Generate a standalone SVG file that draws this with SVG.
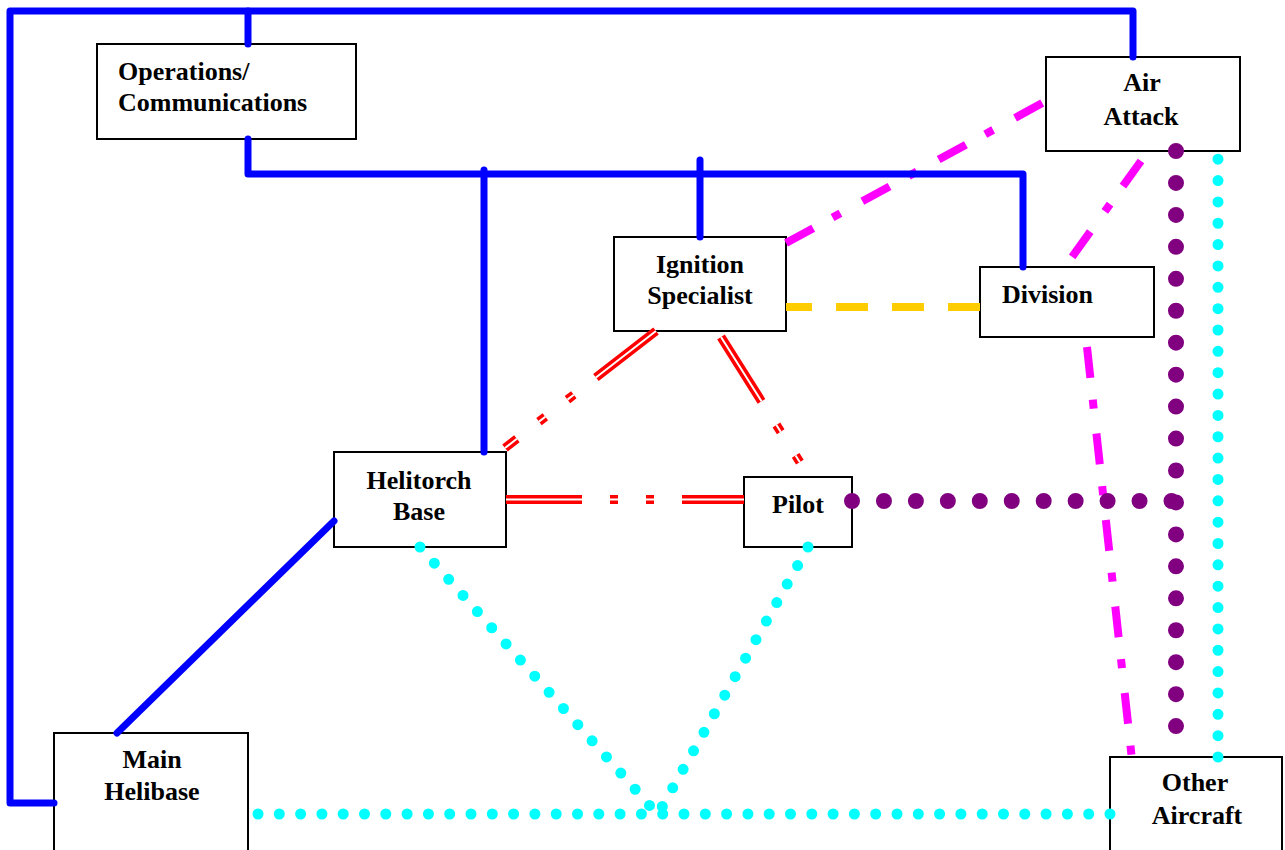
<svg xmlns="http://www.w3.org/2000/svg" width="1285" height="850" viewBox="0 0 1285 850">
<style>
.box{fill:#fff;stroke:#000;stroke-width:2}
.t{font-family:"Liberation Serif","Times New Roman",serif;font-weight:bold;font-size:26px;fill:#000}
.c{text-anchor:middle}
.blue{fill:none;stroke:#0000ff;stroke-width:7;stroke-linecap:round;stroke-linejoin:round}
.mag{fill:none;stroke:#ff00ff;stroke-width:8;stroke-dasharray:31 22 9 25}
.yel{fill:none;stroke:#ffcc00;stroke-width:8;stroke-dasharray:32 24}
.red{fill:none;stroke:#ff0000;stroke-width:9;stroke-dasharray:76 28 8 28 8 28}
.redin{fill:none;stroke:#fff;stroke-width:2;stroke-dasharray:76 28 8 28 8 28}
.pur{fill:none;stroke:#800080;stroke-width:16;stroke-linecap:round}
.cya{fill:none;stroke:#00ffff;stroke-width:11;stroke-linecap:round}
</style>
<rect width="1285" height="850" fill="#fff"/>
<g id="ops"><rect class="box" x="97" y="44" width="259" height="95"/><text class="t" x="118" y="80">Operations/</text><text class="t" x="118" y="111">Communications</text></g>
<g id="airattack"><rect class="box" x="1046" y="57" width="194" height="94"/><text class="t c" x="1142" y="91">Air</text><text class="t c" x="1141" y="125">Attack</text></g>
<g id="ignition"><rect class="box" x="614" y="237" width="172" height="94"/><text class="t c" x="700" y="273">Ignition</text><text class="t c" x="700" y="304">Specialist</text></g>
<g id="division"><rect class="box" x="980" y="267" width="174" height="70"/><text class="t" x="1002" y="303">Division</text></g>
<g id="helitorch"><rect class="box" x="334" y="452" width="172" height="95"/><text class="t c" x="419" y="489">Helitorch</text><text class="t c" x="419" y="520">Base</text></g>
<g id="pilot"><rect class="box" x="744" y="477" width="108" height="70"/><text class="t c" x="798" y="513">Pilot</text></g>
<g id="mainhelibase"><rect class="box" x="54" y="733" width="194" height="130"/><text class="t c" x="152" y="768">Main</text><text class="t c" x="152" y="800">Helibase</text></g>
<g id="otheraircraft"><rect class="box" x="1110" y="757" width="172" height="110"/><text class="t c" x="1195" y="791">Other</text><text class="t c" x="1197" y="824">Aircraft</text></g>
<g id="connectors">
<path class="mag" d="M786,243 L1046,101"/>
<path class="mag" d="M1141,161 L1067,264"/>
<path class="mag" d="M1087,347 L1132,760"/>
<path class="yel" d="M980,307 H786"/>
<path class="blue" d="M54,803 H10 V11 H1133 V57"/>
<path class="blue" d="M248,11 V44"/>
<path class="blue" d="M248,139 V174 H1023 V267"/>
<path class="blue" d="M484,170 V452"/>
<path class="blue" d="M700,160 V237"/>
<path class="blue" d="M334,521 L117,733"/>
<path class="red" d="M656,331 L505,448"/>
<path class="redin" d="M656,331 L505,448"/>
<path class="red" d="M721,337 L801,464"/>
<path class="redin" d="M721,337 L801,464"/>
<path class="red" d="M506,499.5 H744"/>
<path class="redin" d="M506,499.5 H744"/>
<path class="pur" d="M1176,151 V727.5" stroke-dasharray="0 31.95"/>
<path class="pur" d="M852,501 H1172.5" stroke-dasharray="0 31.95"/>
<path class="cya" d="M1218,757 V157.5" stroke-dasharray="0 21.35"/>
<path class="cya" d="M1110,814 H256.5" stroke-dasharray="0 21.3"/>
<path class="cya" d="M420,547 L650.3,806.3" stroke-dasharray="0 21.6"/>
<path class="cya" d="M808,547 L661.8,807.3" stroke-dasharray="0 21.25"/>
</g>
</svg>
